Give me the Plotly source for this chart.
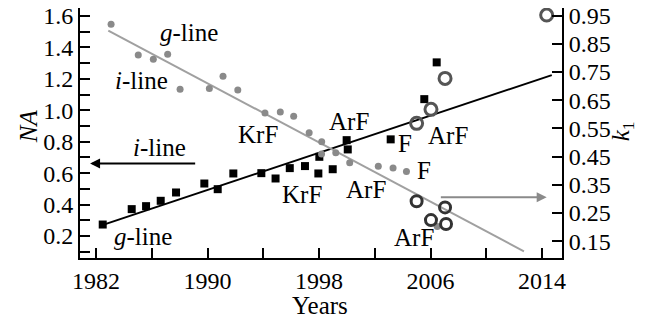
import plotly.graph_objects as go

# ---- data ----
na_years = [1982.48, 1984.56, 1985.59, 1986.64, 1987.74, 1989.77, 1990.73, 1991.85,
            1993.86, 1994.88, 1995.90, 1996.99, 1997.95, 1998.98, 1998.02, 1999.98,
            2000.06, 2003.14, 2005.55, 2006.44]
na_values = [0.273, 0.371, 0.390, 0.424, 0.477, 0.534, 0.498, 0.598,
             0.600, 0.566, 0.632, 0.645, 0.598, 0.625, 0.704, 0.810,
             0.751, 0.815, 1.071, 1.305]

na_trend_years = [1982.5, 2014.7]
na_trend_values = [0.271, 1.224]

k1_years = [1983.08, 1985.03, 1986.11, 1987.14, 1988.03, 1990.13, 1991.11, 1992.17,
            1994.12, 1995.22, 1996.18, 1997.29, 1998.19, 1998.18, 1999.20, 2000.20,
            2002.25, 2003.31, 2004.27, 2006.48]
k1_values = [0.919, 0.810, 0.795, 0.813, 0.689, 0.692, 0.735, 0.686,
             0.605, 0.608, 0.593, 0.535, 0.503, 0.459, 0.464, 0.428,
             0.416, 0.410, 0.397, 0.202]

k1_trend_years = [1982.88, 2012.70]
k1_trend_values = [0.897, 0.114]

immersion_na_years = [2005.0, 2006.03, 2007.04, 2014.33]
immersion_na_values = [0.917, 1.006, 1.203, 1.606]

immersion_k1_years = [2005.0, 2006.03, 2007.04, 2007.11]
immersion_k1_values = [0.292, 0.225, 0.270, 0.211]

x_ticks = [1982, 1990, 1998, 2006, 2014]
na_ticks = [0.2, 0.4, 0.6, 0.8, 1.0, 1.2, 1.4, 1.6]
k1_ticks = [0.15, 0.25, 0.35, 0.45, 0.55, 0.65, 0.75, 0.85, 0.95]

FONT = "Liberation Serif"
FS = 24
FS_LABEL = 25

fig = go.Figure()

fig.add_trace(go.Scatter(x=k1_trend_years, y=k1_trend_values, yaxis="y2", mode="lines",
                         line=dict(color="#a0a0a0", width=2), showlegend=False))
fig.add_trace(go.Scatter(x=k1_years, y=k1_values, yaxis="y2", mode="markers",
                         marker=dict(symbol="circle", size=7, color="#8a8a8a"), showlegend=False))
fig.add_trace(go.Scatter(x=na_trend_years, y=na_trend_values, mode="lines",
                         line=dict(color="black", width=2), showlegend=False))
fig.add_trace(go.Scatter(x=na_years, y=na_values, mode="markers",
                         marker=dict(symbol="square", size=8, color="black"), showlegend=False))
fig.add_trace(go.Scatter(x=immersion_na_years, y=immersion_na_values, mode="markers",
                         marker=dict(symbol="circle-open", size=12, color="#555555",
                                     line=dict(width=3, color="#555555")), showlegend=False))
fig.add_trace(go.Scatter(x=immersion_k1_years, y=immersion_k1_values, yaxis="y2", mode="markers",
                         marker=dict(symbol="circle-open", size=11, color="#333333",
                                     line=dict(width=3, color="#333333")), showlegend=False))

labels = [
    ("<i>g</i>-line", 1988.67, 1.492),
    ("<i>i</i>-line", 1985.26, 1.192),
    ("<i>i</i>-line", 1986.52, 0.766),
    ("<i>g</i>-line", 1985.37, 0.199),
    ("KrF", 1993.59, 0.848),
    ("ArF", 2000.15, 0.931),
    ("F", 2004.20, 0.791),
    ("KrF", 1996.78, 0.466),
    ("ArF", 2001.37, 0.498),
    ("F", 2005.51, 0.616),
    ("ArF", 2007.25, 0.842),
    ("ArF", 2004.81, 0.192),
]
annotations = []
for t, x, y in labels:
    annotations.append(dict(text=t, x=x, y=y, xref="x", yref="y", showarrow=False,
                            font=dict(family=FONT, size=FS_LABEL, color="black"),
                            xanchor="center", yanchor="middle"))

# arrows
annotations.append(dict(x=1981.57, y=0.662, ax=1989.22, ay=0.662, xref="x", yref="y",
                        axref="x", ayref="y", text="", showarrow=True, arrowhead=2,
                        arrowsize=1, arrowwidth=2, arrowcolor="black"))
annotations.append(dict(x=2014.33, y=0.306, ax=2006.63, ay=0.306, xref="x", yref="y2",
                        axref="x", ayref="y2", text="", showarrow=True, arrowhead=2,
                        arrowsize=1, arrowwidth=2, arrowcolor="#8a8a8a"))

# axis titles
annotations.append(dict(text="Years", x=0.498, y=-0.19, xref="paper", yref="paper",
                        showarrow=False, font=dict(family=FONT, size=FS_LABEL, color="black"),
                        xanchor="center", yanchor="middle"))
annotations.append(dict(text="<i>NA</i>", x=-0.108, y=0.527, xref="paper", yref="paper",
                        showarrow=False, textangle=-90,
                        font=dict(family=FONT, size=FS_LABEL, color="black"),
                        xanchor="center", yanchor="middle"))
annotations.append(dict(text="<i>k</i><sub>1</sub>", x=1.1245, y=0.507, xref="paper", yref="paper",
                        showarrow=False, textangle=-90,
                        font=dict(family=FONT, size=FS_LABEL, color="black"),
                        xanchor="center", yanchor="middle"))

axis_common = dict(showgrid=False, zeroline=False, showline=True, linecolor="black",
                   linewidth=2, ticks="inside", ticklen=10, tickwidth=2, tickcolor="black",
                   automargin=False, ticklabeloverflow="allow",
                   tickfont=dict(family=FONT, size=FS, color="black"))

fig.update_layout(
    width=652, height=324,
    margin=dict(l=80, r=90, t=8, b=66),
    paper_bgcolor="white", plot_bgcolor="white",
    showlegend=False,
    xaxis=dict(range=[1980.85, 2015.43], tickvals=x_ticks, ticktext=[str(v) for v in x_ticks],
               minor=dict(ticks="inside", ticklen=10, tickwidth=2, tickcolor="black",
                          tick0=1982, dtick=4),
               **axis_common),
    yaxis=dict(range=[0.06, 1.651], tickvals=na_ticks,
               ticktext=[f"{v:.1f}" for v in na_ticks],
               minor=dict(ticks="inside", ticklen=10, tickwidth=2, tickcolor="black",
                          tick0=0.1, dtick=0.1),
               **axis_common),
    yaxis2=dict(range=[0.0906, 0.977], overlaying="y", side="right", anchor="x",
                tickvals=k1_ticks, ticktext=[f"{v:.2f}" for v in k1_ticks],
                **axis_common),
    annotations=annotations,
)

# remove the browser's default 8px body margin so the figure sits at the page origin
fig.write_html("out.html", config={"displayModeBar": False},
               post_script="document.body.style.margin='0px';")
